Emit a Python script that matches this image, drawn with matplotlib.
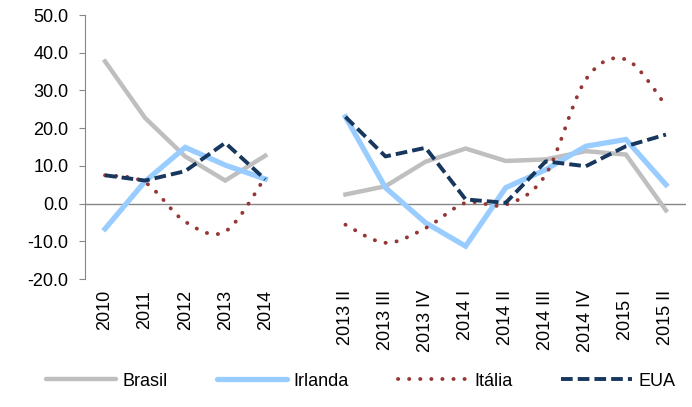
import numpy as np
import matplotlib
matplotlib.use('Agg')
import matplotlib.pyplot as plt
from matplotlib.path import Path
from matplotlib.patches import PathPatch
from matplotlib.lines import Line2D

plt.rcParams['font.family'] = ['Liberation Sans', 'DejaVu Sans']

# categories (index 5 is the empty gap between annual and quarterly data)
labels = ['2010', '2011', '2012', '2013', '2014', '',
          '2013 II', '2013 III', '2013 IV', '2014 I', '2014 II',
          '2014 III', '2014 IV', '2015 I', '2015 II']
nan = np.nan
brasil = [37.7, 22.7, 12.5, 6.1, 12.7, nan, 2.4, 4.6, 11.1, 14.6, 11.3, 11.7, 13.9, 13.0, -1.8]
irlanda = [-6.7, 5.9, 14.9, 10.2, 6.5, nan, 23.0, 4.2, -5.1, -11.3, 4.2, 9.0, 15.2, 17.0, 5.0]
italia = [7.5, 5.6, -4.8, -7.4, 7.0, nan, -5.6, -10.4, -6.5, 0.2, -0.3, 7.7, 32.9, 38.2, 26.0]
eua = [7.5, 6.1, 8.6, 16.1, 6.4, nan, 23.0, 12.5, 14.8, 1.1, 0.2, 11.2, 9.9, 15.2, 18.3]

c_brasil = '#BFBFBF'
c_irlanda = '#99CCFF'
c_italia = '#953735'
c_eua = '#17375E'


def smooth_path(xs, ys):
    # Excel-style smoothed line: Catmull-Rom segments as cubic Bezier curves
    verts, codes = [], []
    pts = np.column_stack([xs, ys])
    segs, cur = [], []
    for p in pts:
        if np.isnan(p[1]):
            if cur:
                segs.append(np.array(cur))
            cur = []
        else:
            cur.append(p)
    if cur:
        segs.append(np.array(cur))
    for s in segs:
        n = len(s)
        verts.append(s[0]); codes.append(Path.MOVETO)
        for i in range(n - 1):
            p0 = s[i - 1] if i > 0 else s[i]
            p3 = s[i + 2] if i + 2 < n else s[i + 1]
            c1 = s[i] + (s[i + 1] - p0) / 6
            c2 = s[i + 1] - (p3 - s[i]) / 6
            verts += [c1, c2, s[i + 1]]
            codes += [Path.CURVE4] * 3
    return Path(verts, codes)


fig = plt.figure(figsize=(6.92, 4.07), dpi=100)
ax = fig.add_axes([85 / 692, 1 - 279 / 407, 601 / 692, 264 / 407])

x = np.arange(len(labels))
dots = (0, (0.05, 2.8))
dashes = (0, (3.0, 1.3))

ax.plot(x, brasil, color=c_brasil, lw=3.2, solid_joinstyle='miter', zorder=3)
ax.plot(x, irlanda, color=c_irlanda, lw=3.8, solid_joinstyle='miter', zorder=3)
patch = PathPatch(smooth_path(x, italia), fill=False, edgecolor=c_italia, lw=2.8,
                  linestyle=dots, capstyle='round', zorder=4)
ax.add_patch(patch)
ax.plot(x, eua, color=c_eua, lw=2.8, linestyle=dashes, zorder=5)

ax.axhline(0, color='#868686', lw=1, zorder=2)

ax.set_xlim(-0.5, len(labels) - 0.5)
ax.set_ylim(-20, 50)
ax.set_yticks(range(-20, 51, 10))
ax.set_yticklabels([f'{v:.1f}' for v in range(-20, 51, 10)], fontsize=13)
ax.set_xticks(x)
ax.set_xticklabels(labels, rotation=90, fontsize=13, va='top', ha='center')
ax.tick_params(axis='x', length=0, pad=8)
ax.tick_params(axis='y', length=4, color='#868686', direction='out', pad=8)

for s in ['top', 'right', 'bottom']:
    ax.spines[s].set_visible(False)
ax.spines['left'].set_color('#868686')

handles = [
    Line2D([], [], color=c_brasil, lw=3.2, solid_capstyle='round'),
    Line2D([], [], color=c_irlanda, lw=3.8, solid_capstyle='round'),
    Line2D([], [], color=c_italia, lw=2.8, linestyle=dots, dash_capstyle='round'),
    Line2D([], [], color=c_eua, lw=2.8, linestyle=dashes),
]
fig.legend(handles, ['Brasil', 'Irlanda', 'Itália', 'EUA'], loc='center',
           bbox_to_anchor=(0.521, 1 - 381 / 407), ncol=4, frameon=False,
           fontsize=13, handlelength=3.9, columnspacing=2.7, handletextpad=0.35)

fig.savefig('out.png', dpi=100)
